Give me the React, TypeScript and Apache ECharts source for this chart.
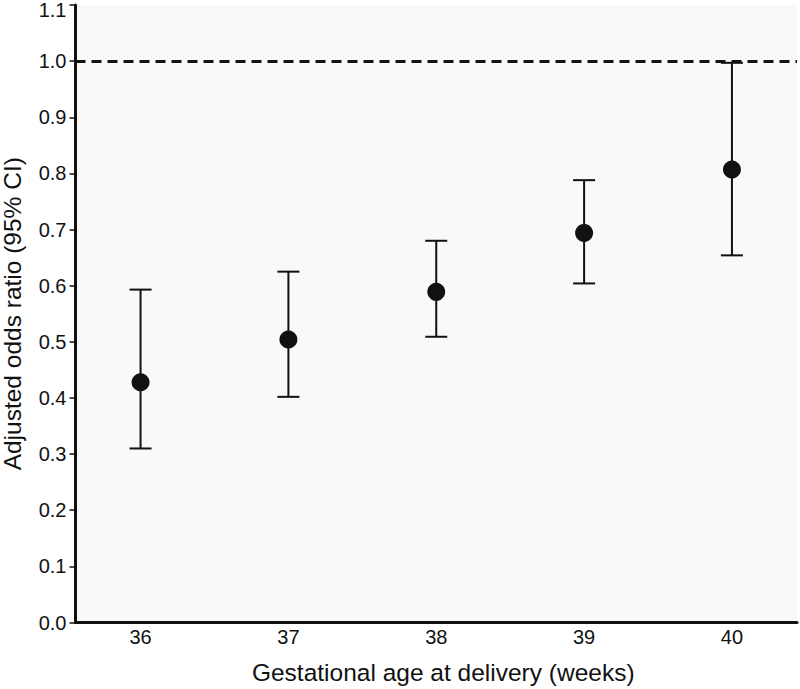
import React, { useEffect, useRef } from "react";
import * as echarts from "echarts";

const weeks = [36, 37, 38, 39, 40];
const oddsRatio = [0.428, 0.504, 0.589, 0.694, 0.807];
const ciLower = [0.31, 0.402, 0.509, 0.604, 0.654];
const ciUpper = [0.593, 0.625, 0.68, 0.788, 0.997];
const yTicks = [0, 0.1, 0.2, 0.3, 0.4, 0.5, 0.6, 0.7, 0.8, 0.9, 1.0, 1.1];
const referenceLine = 1.0;

const FONT = "Liberation Sans, Arial, sans-serif";
const INK = "#111111";

export default function App() {
  const ref = useRef<HTMLDivElement>(null);

  useEffect(() => {
    if (!ref.current) return;
    const chart = echarts.init(ref.current, null, { renderer: "svg" });

    const points = weeks.map((w, i) => [w, oddsRatio[i]]);
    const bars = weeks.map((w, i) => [w, ciLower[i], ciUpper[i]]);

    chart.setOption({
      animation: false,
      backgroundColor: "#ffffff",
      textStyle: { fontFamily: FONT },
      grid: {
        left: 75.5,
        right: 3,
        top: 5,
        bottom: 66.5,
        show: true,
        backgroundColor: "#f9f9f9",
        borderWidth: 0,
        containLabel: false,
        outerBoundsMode: "none",
      },
      xAxis: {
        type: "value",
        min: 35.56,
        max: 40.44,
        name: "Gestational age at delivery (weeks)",
        nameLocation: "middle",
        nameGap: 37,
        nameTextStyle: {
          fontSize: 24.5,
          color: INK,
          fontFamily: FONT,
          padding: [0, 0, 0, 14],
        },
        axisLine: { show: true, onZero: false, lineStyle: { color: INK, width: 3 } },
        axisTick: { show: false },
        splitLine: { show: false },
        axisLabel: {
          customValues: weeks,
          fontSize: 20,
          color: INK,
          margin: 4,
          fontFamily: FONT,
          formatter: (v: number) => String(Math.round(v)),
        },
      },
      yAxis: {
        type: "value",
        min: 0,
        max: 1.1,
        interval: 0.1,
        name: "Adjusted odds ratio (95% CI)",
        nameLocation: "middle",
        nameGap: 51,
        nameTextStyle: { fontSize: 24.5, color: INK, fontFamily: FONT },
        axisLine: { show: true, onZero: false, lineStyle: { color: INK, width: 3 } },
        axisTick: { show: true, length: 6, lineStyle: { color: INK, width: 1.5 } },
        splitLine: { show: false },
        axisLabel: {
          customValues: yTicks,
          fontSize: 20,
          color: INK,
          margin: 9,
          fontFamily: FONT,
          formatter: (v: number) =>
            Math.abs(v - 1.1) < 1e-6 ? "{t|" + v.toFixed(1) + "}" : v.toFixed(1),
          rich: {
            t: { fontSize: 20, color: INK, fontFamily: FONT, padding: [10, 0, 0, 0] },
          },
        },
      },
      series: [
        {
          type: "custom",
          data: bars,
          z: 2,
          renderItem: (params: any, api: any) => {
            const x = api.value(0);
            const lo = api.coord([x, api.value(1)]);
            const hi = api.coord([x, api.value(2)]);
            const hw = 11;
            const style = { stroke: INK, lineWidth: 2 };
            return {
              type: "group",
              children: [
                { type: "line", shape: { x1: lo[0], y1: lo[1], x2: hi[0], y2: hi[1] }, style },
                { type: "line", shape: { x1: lo[0] - hw, y1: lo[1], x2: lo[0] + hw, y2: lo[1] }, style },
                { type: "line", shape: { x1: hi[0] - hw, y1: hi[1], x2: hi[0] + hw, y2: hi[1] }, style },
              ],
            };
          },
        },
        {
          type: "scatter",
          data: points,
          symbol: "circle",
          symbolSize: 18,
          itemStyle: { color: INK, opacity: 1 },
          z: 3,
          markLine: {
            silent: true,
            symbol: ["none", "none"],
            label: { show: false },
            lineStyle: { color: INK, width: 3, type: [10, 6] },
            data: [{ yAxis: referenceLine }],
          },
        },
      ],
    });

    return () => chart.dispose();
  }, []);

  return (
    <div
      ref={ref}
      style={{ position: "fixed", left: 0, top: 0, width: 800, height: 689 }}
    />
  );
}
